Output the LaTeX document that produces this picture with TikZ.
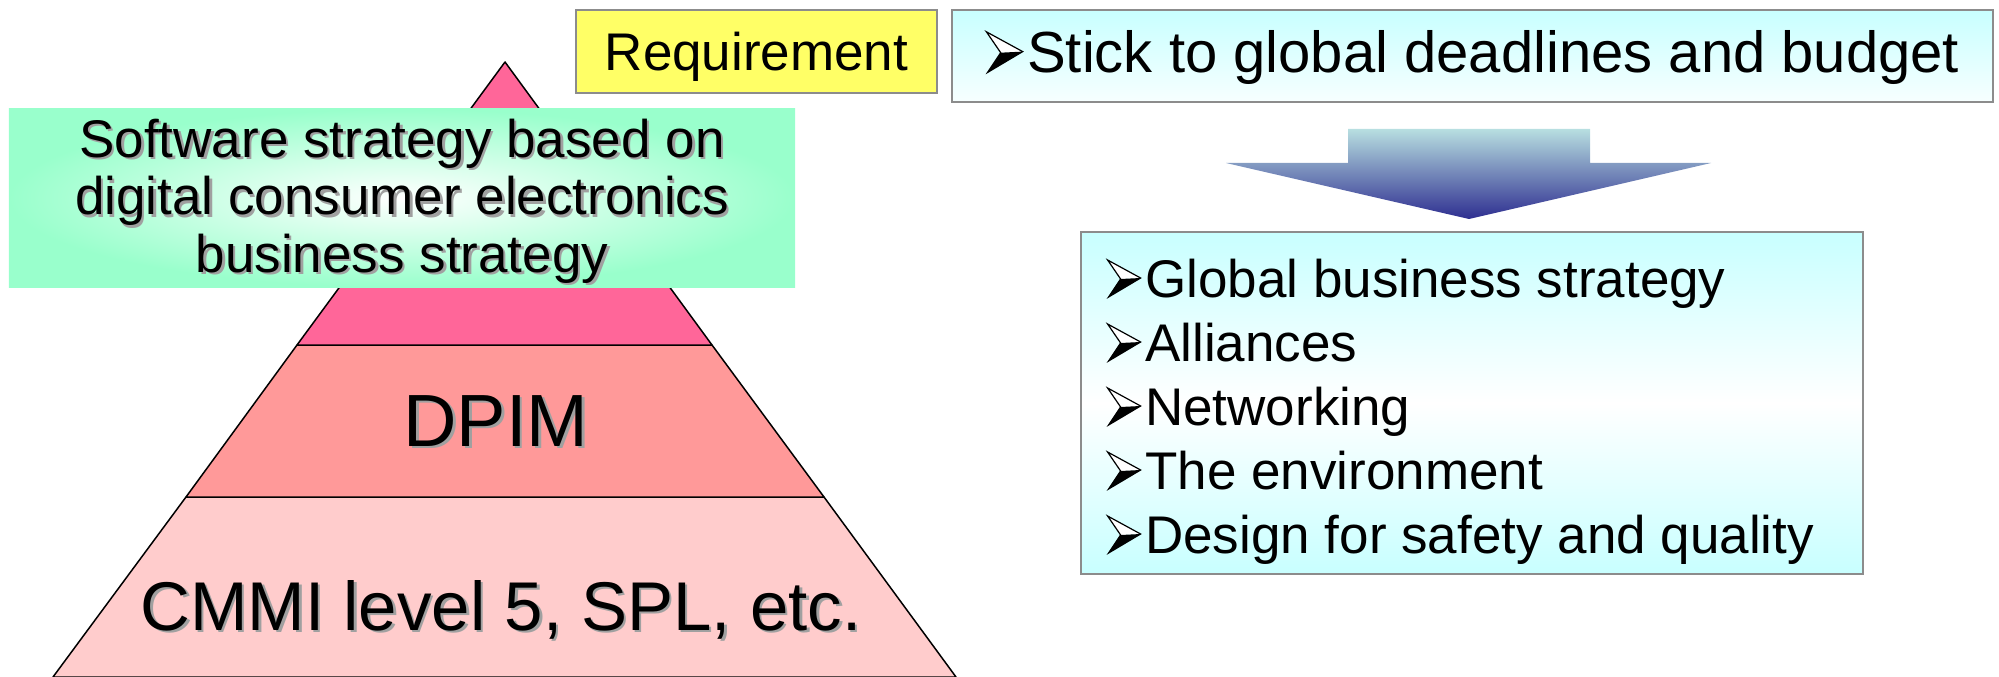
\documentclass[tikz,border=0pt]{standalone}
\usepackage{fontspec}
\setmainfont{Liberation Sans}
\definecolor{pyrtop}{HTML}{FF6699}
\definecolor{pyrmid}{HTML}{FF9999}
\definecolor{pyrbot}{HTML}{FFCCCC}
\definecolor{stratgreen}{HTML}{99FFCC}
\definecolor{reqyellow}{HTML}{FFFF66}
\definecolor{boxcyan}{HTML}{C8FFFF}
\definecolor{boxgray}{HTML}{8C8C8C}
\definecolor{arrtop}{HTML}{B8DFE1}
\definecolor{arrbot}{HTML}{2E2E90}
\definecolor{shadowgray}{HTML}{A0A0A0}
\newcommand\shd[1]{\leavevmode\rlap{\kern2.5bp\raisebox{-2.5bp}{\textcolor{shadowgray}{#1}}}#1}
\newcommand\bul[1][1]{\tikz[x=#1bp,y=#1bp,baseline=0pt]{%
  \fill[white] (0,37)--(33,19)--(13,18)--cycle;
  \fill[black] (13,18)--(33,19)--(1,0)--cycle;
  \draw[black, line width=1.2bp, line join=miter] (0,37)--(33,19)--(1,0)--(13,18)--cycle;}\kern4bp}
\tikzset{
  layer/.style={draw=black, line width=1.5bp, line join=round},
  grayframe/.style={draw=boxgray, line width=2bp, inner sep=0pt},
  cyanbox/.style={grayframe, top color=boxcyan, bottom color=boxcyan, middle color=white},
  plain/.style={inner sep=0pt, outer sep=0pt},
}
\begin{document}
\begin{tikzpicture}[x=1bp, y=-1bp]
\useasboundingbox (0,0) rectangle (1999,677);
% pyramid
\coordinate (apex) at (505,62);
\coordinate (l1) at (297,345); \coordinate (r1) at (712,345);
\coordinate (l2) at (186,497); \coordinate (r2) at (824,497);
\coordinate (l3) at (53,677);  \coordinate (r3) at (956,677);
\path[layer, fill=pyrbot] (l2) -- (r2) -- (r3) -- (l3) -- cycle;
\path[layer, fill=pyrmid] (l1) -- (r1) -- (r2) -- (l2) -- cycle;
\path[layer, fill=pyrtop] (apex) -- (r1) -- (l1) -- cycle;
\node[plain, anchor=base, font=\fontsize{74bp}{80bp}\selectfont] (dpim) at (496,446) {\shd{DPIM}};
\node[plain, anchor=base, font=\fontsize{69bp}{75bp}\selectfont] (cmmi) at (501,630) {\shd{CMMI level 5, SPL, etc.}};
% strategy box
\node[plain, minimum width=786bp, minimum height=178bp, inner color=white, outer color=stratgreen] (strat) at (402,198) {};
\node[plain, anchor=north, align=center, font=\fontsize{53bp}{57.5bp}\selectfont] (strattext) at (402,112)
  {\rule{0pt}{45bp}\shd{Software strategy based on}\\\shd{digital consumer electronics}\\\shd{business strategy}};
% requirement
\node[grayframe, fill=reqyellow, minimum width=361bp, minimum height=83bp, text height=38bp, text depth=0bp, font=\fontsize{53bp}{58bp}\selectfont] (req) at (756.5,51.5) {Requirement};
% stick box
\node[grayframe, top color=boxcyan, bottom color=white!85!boxcyan, minimum width=1041bp, minimum height=92bp, text height=42bp, text depth=9bp, font=\fontsize{58bp}{62bp}\selectfont] (stick) at (1472.5,56) {\bul[1.1]Stick to global deadlines and budget};
% arrow
\shade[top color=arrtop, bottom color=arrbot] (1348,129) -- (1590,129) -- (1590,163) -- (1711,163) -- (1469,219) -- (1226,163) -- (1348,163) -- cycle;
% bullet box
\node[cyanbox, minimum width=782bp, minimum height=342bp] (biz) at (1472,403) {};
\node[plain, anchor=north west, align=left, font=\fontsize{53bp}{64bp}\selectfont] (biztext) at (1107,252)
  {\rule{0pt}{45bp}\bul Global business strategy\\\bul Alliances\\\bul Networking\\\bul The environment\\\bul Design for safety and quality};
\end{tikzpicture}
\end{document}
